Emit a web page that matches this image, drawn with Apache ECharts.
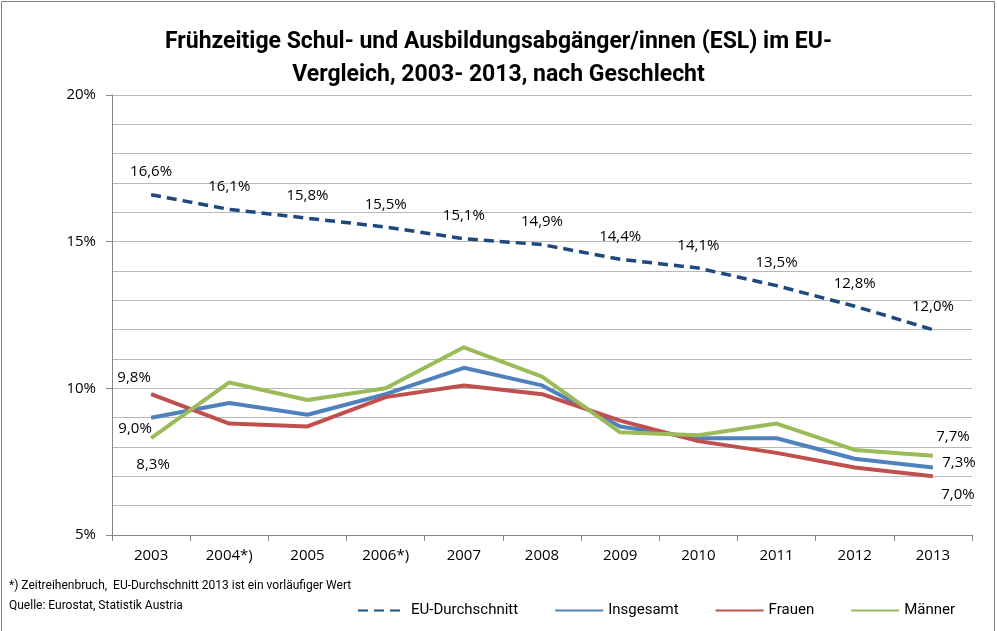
<!DOCTYPE html>
<html>
<head>
<meta charset="utf-8">
<script src="https://cdn.jsdelivr.net/npm/echarts@6/dist/echarts.min.js"></script>
<style>
  html, body { margin: 0; padding: 0; background: #fff; }
  #main { width: 997px; height: 631px; }
</style>
</head>
<body>
<div id="main"></div>
<script>
var years = ['2003', '2004*)', '2005', '2006*)', '2007', '2008', '2009', '2010', '2011', '2012', '2013'];
var euAvg = [16.6, 16.1, 15.8, 15.5, 15.1, 14.9, 14.4, 14.1, 13.5, 12.8, 12.0];
var total = [9.0, 9.5, 9.1, 9.8, 10.7, 10.1, 8.7, 8.3, 8.3, 7.6, 7.3];
var women = [9.8, 8.8, 8.7, 9.7, 10.1, 9.8, 8.9, 8.2, 7.8, 7.3, 7.0];
var men = [8.3, 10.2, 9.6, 10.0, 11.4, 10.4, 8.5, 8.4, 8.8, 7.9, 7.7];

var font = 'Open Sans';
var narrow = 'Roboto';

function pct(v) {
    return v.toFixed(1).replace('.', ',') + '%';
}

// label only on first and last point, with given offsets
function endLabels(values, firstOff, lastOff) {
    return values.map(function (v, i) {
        if (i === 0 || i === values.length - 1) {
            var off = i === 0 ? firstOff : lastOff;
            return {
                value: v,
                label: { show: true, position: 'inside', offset: off }
            };
        }
        return v;
    });
}

function lineSeries(name, data, color, extra) {
    var s = {
        name: name,
        type: 'line',
        data: data,
        symbol: 'circle',
        symbolSize: 0,
        lineStyle: { color: color, width: 4 },
        itemStyle: { color: color },
        label: { fontSize: 15, color: '#000', formatter: function (p) { return pct(p.value); } }
    };
    return Object.assign(s, extra || {});
}

var chart = echarts.init(document.getElementById('main'));
var option = {
    animation: false,
    textStyle: { fontFamily: font },
    title: {
        text: 'Frühzeitige Schul- und Ausbildungsabgänger/innen (ESL) im EU-\nVergleich, 2003- 2013, nach Geschlecht',
        left: 'center',
        top: 21,
        textStyle: { fontSize: 23, fontWeight: 'bold', color: '#000', lineHeight: 33, fontFamily: narrow }
    },
    legend: {
        left: 352,
        top: 598,
        itemWidth: 48,
        itemHeight: 4,
        itemGap: 36,
        itemStyle: { opacity: 0 },
        textStyle: { fontSize: 15, color: '#000', fontFamily: narrow },
        data: ['EU-Durchschnitt', 'Insgesamt', 'Frauen', 'Männer']
    },
    grid: { left: 112, right: 25, top: 95, bottom: 96 },
    xAxis: {
        type: 'category',
        data: years,
        boundaryGap: true,
        axisLine: { lineStyle: { color: '#868686' } },
        axisTick: { show: true, length: 6, lineStyle: { color: '#868686' } },
        axisLabel: { fontSize: 15, color: '#000', margin: 13 }
    },
    yAxis: [{
        type: 'value',
        min: 5,
        max: 20,
        interval: 1,
        axisLine: { show: false },
        axisTick: { show: false },
        axisLabel: { show: false },
        splitLine: { lineStyle: { color: '#b8b8b8', width: 1.2 } }
    }, {
        type: 'value',
        position: 'left',
        min: 5,
        max: 20,
        interval: 5,
        axisLine: { show: true, lineStyle: { color: '#868686' } },
        axisTick: { show: true, length: 6, lineStyle: { color: '#868686' } },
        axisLabel: { fontSize: 15, color: '#000', margin: 16, formatter: function (v) { return v + '%'; } },
        splitLine: { show: false }
    }],
    graphic: [{
        type: 'rect',
        shape: { x: 1.5, y: 1.5, width: 993, height: 640 },
        style: { fill: 'none', stroke: '#7f7f7f', lineWidth: 1 }
    }, {
        type: 'text',
        left: 9,
        top: 580,
        style: { text: '*) Zeitreihenbruch,  EU-Durchschnitt 2013 ist ein vorläufiger Wert', fontSize: 12, fill: '#000', fontFamily: narrow }
    }, {
        type: 'text',
        left: 9,
        top: 600,
        style: { text: 'Quelle: Eurostat, Statistik Austria', fontSize: 12, fill: '#000', fontFamily: narrow }
    }],
    series: [
        lineSeries('EU-Durchschnitt', euAvg, '#1f497d', {
            lineStyle: { color: '#1f497d', width: 3.5, type: [10, 6] },
            label: {
                show: true,
                position: 'top',
                distance: 15,
                fontSize: 15,
                color: '#000',
                formatter: function (p) { return pct(p.value); }
            },
            z: 3
        }),
        lineSeries('Insgesamt', endLabels(total, [-16, 11], [26, -5]), '#4f81bd'),
        lineSeries('Frauen', endLabels(women, [-17, -16], [25, 18]), '#c0504d'),
        lineSeries('Männer', endLabels(men, [2, 27], [20, -19]), '#9bbb59')
    ]
};
chart.setOption(option);
</script>
</body>
</html>
